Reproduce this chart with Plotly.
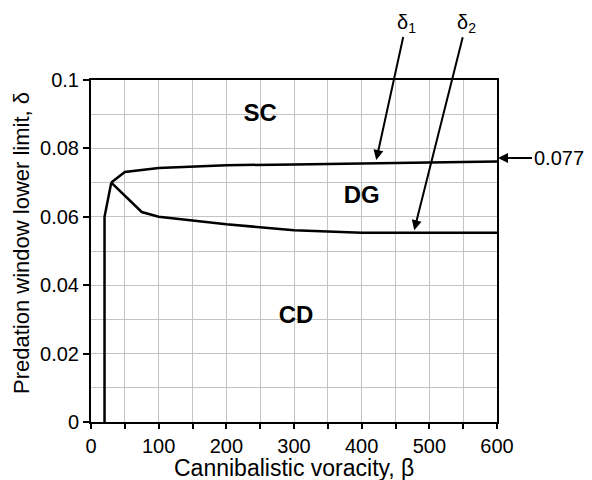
import plotly.graph_objects as go

# Data
beta_start = [20, 20, 30]
delta_start = [0, 0.06, 0.07]

beta_d1 = [30, 50, 100, 200, 300, 400, 500, 600]
delta_d1 = [0.07, 0.0731, 0.0743, 0.0751, 0.0753, 0.0756, 0.0759, 0.0762]

beta_d2 = [30, 75, 100, 200, 300, 400, 500, 600]
delta_d2 = [0.07, 0.0614, 0.0600, 0.0578, 0.0561, 0.0553, 0.0553, 0.0553]

x_ticks = [0, 100, 200, 300, 400, 500, 600]
x_ticktext = ["0", "100", "200", "300", "400", "500", "600"]
y_ticks = [0, 0.02, 0.04, 0.06, 0.08, 0.1]
y_ticktext = ["0", "0.02", "0.04", "0.06", "0.08", "0.1"]

region_labels = ["SC", "DG", "CD"]
region_beta = [250, 400, 303]
region_delta = [0.0898, 0.0657, 0.0306]

x_title = "Cannibalistic voracity, β"
y_title = "Predation window lower limit, δ"

FONT = "Liberation Sans, Arial, sans-serif"
line_style = dict(color="black", width=2.5)

fig = go.Figure()
fig.add_trace(go.Scatter(x=beta_start, y=delta_start, mode="lines", line=line_style, showlegend=False))
fig.add_trace(go.Scatter(x=beta_d1, y=delta_d1, mode="lines", line=line_style, showlegend=False))
fig.add_trace(go.Scatter(x=beta_d2, y=delta_d2, mode="lines", line=line_style, showlegend=False))
fig.add_trace(go.Scatter(x=region_beta, y=region_delta, mode="text", text=region_labels,
                         textfont=dict(family=FONT, size=24, color="black", weight="bold"),
                         showlegend=False))

# plot area in pixels: x 91..497, y 80..422
def px_to_paper(px, py):
    return (px - 91) / (497 - 91), (422 - py) / (422 - 80)

arrow = dict(showarrow=True, arrowhead=2, arrowsize=1, arrowwidth=2, arrowcolor="black",
             font=dict(family=FONT, size=20, color="black"))
annotations = [
    dict(x=421.6, y=0.0766, xref="x", yref="y", text="δ<sub>1</sub>",
         ax=30, ay=-137, **arrow),
    dict(x=477.7, y=0.0561, xref="x", yref="y", text="δ<sub>2</sub>",
         ax=52, ay=-207, **arrow),
]
tx, ty = px_to_paper(498, 158)
annotations.append(dict(x=tx, y=ty, xref="paper", yref="paper", text="0.077",
                        ax=34, ay=0, xanchor="left", yanchor="middle", **arrow))

# axis titles
xtx, xty = px_to_paper(294, 468)
annotations.append(dict(x=xtx, y=xty, xref="paper", yref="paper", text=x_title, showarrow=False,
                        xanchor="center", yanchor="middle",
                        font=dict(family=FONT, size=23, color="black")))
ytx, yty = px_to_paper(21, 243)
annotations.append(dict(x=ytx, y=yty, xref="paper", yref="paper", text=y_title, showarrow=False,
                        textangle=-90, xanchor="center", yanchor="middle",
                        font=dict(family=FONT, size=22, color="black")))

fig.update_layout(
    width=592, height=480,
    margin=dict(l=91, r=95, t=80, b=58),
    plot_bgcolor="white", paper_bgcolor="white",
    font=dict(family=FONT, size=20, color="black"),
    annotations=annotations,
    xaxis=dict(
        range=[0, 600], tickvals=x_ticks, ticktext=x_ticktext, automargin=False,
        ticks="outside", ticklen=5, tickwidth=2, tickcolor="black",
        showline=True, linecolor="black", linewidth=2, mirror=True,
        showgrid=True, gridcolor="#c4c4c4", gridwidth=1,
        minor=dict(dtick=50, ticks="outside", ticklen=5, tickwidth=2, tickcolor="black",
                   showgrid=True, gridcolor="#c4c4c4", gridwidth=1),
        tickfont=dict(family=FONT, size=20),
        zeroline=False,
    ),
    yaxis=dict(
        range=[0, 0.1], tickvals=y_ticks, ticktext=y_ticktext, automargin=False,
        ticks="outside", ticklen=6, tickwidth=2, tickcolor="black",
        showline=True, linecolor="black", linewidth=2, mirror=True,
        showgrid=True, gridcolor="#c4c4c4", gridwidth=1,
        minor=dict(dtick=0.01, ticks="", showgrid=True, gridcolor="#c4c4c4", gridwidth=1),
        tickfont=dict(family=FONT, size=20),
        zeroline=False,
    ),
)

fig.write_html("out.html")
